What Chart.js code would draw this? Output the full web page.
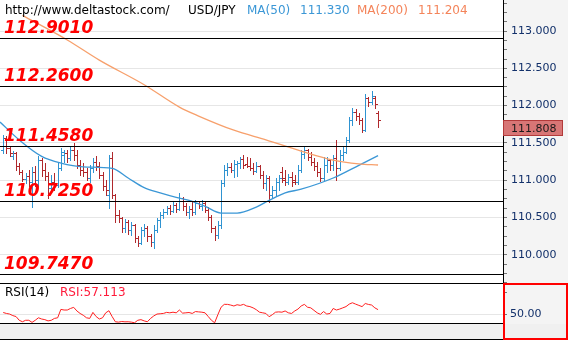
<!DOCTYPE html>
<html>
<head>
<meta charset="utf-8">
<script src="https://cdn.jsdelivr.net/npm/chart.js@4.4.0/dist/chart.umd.min.js"></script>
<style>
  body { margin: 0; background: #fff; }
  #wrap { position: relative; width: 568px; height: 340px; overflow: hidden; }
  #price { position: absolute; left: 0; top: 0; }
  #rsi { position: absolute; left: 0; top: 283px; }
  #strip { position: absolute; left: 0; top: 324px; width: 568px; height: 15px; background: #f0f0f0; border-bottom: 1px solid #000; }
  #frame { position: absolute; left: 503px; top: 283px; width: 65px; height: 57px; border: 2px solid #f00; box-sizing: border-box; }
</style>
</head>
<body>
<div id="wrap">
  <canvas id="price" width="568" height="283"></canvas>
  <canvas id="rsi" width="568" height="41"></canvas>
  <div id="strip"></div>
  <div id="frame"></div>
</div>
<script>
// USD/JPY bars, one entry per bar (index 0..117)
const open = [
  111.40, 111.57, 111.43, 111.32, 111.36, 111.19, 111.11, 111.02, 111.06, 110.98,
  111.11, 111.00, 111.27, 111.14, 111.06, 110.90, 110.98, 110.94, 111.16, 111.34,
  111.36, 111.30, 111.40, 111.34, 111.20, 111.14, 111.11, 111.03, 111.16, 111.24,
  111.19, 111.07, 110.92, 110.80, 111.30, 110.80, 110.53, 110.49, 110.36, 110.44,
  110.33, 110.40, 110.23, 110.16, 110.33, 110.36, 110.25, 110.17, 110.33, 110.47,
  110.53, 110.57, 110.63, 110.59, 110.67, 110.61, 110.76, 110.65, 110.57, 110.61,
  110.57, 110.69, 110.65, 110.69, 110.60, 110.51, 110.36, 110.27, 110.40, 110.96,
  111.14, 111.18, 111.14, 111.22, 111.23, 111.28, 111.22, 111.19, 111.16, 111.12,
  111.19, 111.07, 110.96, 111.03, 110.80, 110.87, 110.98, 111.11, 111.03, 110.98,
  111.04, 111.00, 110.97, 111.14, 111.35, 111.40, 111.31, 111.24, 111.19, 111.11,
  111.03, 111.20, 111.27, 111.20, 111.30, 111.16, 111.34, 111.38, 111.54, 111.81,
  111.91, 111.86, 111.81, 111.67, 112.10, 112.05, 112.10, 111.90
];
const high = [
  111.61, 111.59, 111.46, 111.39, 111.38, 111.23, 111.14, 111.10, 111.14, 111.18,
  111.19, 111.32, 111.30, 111.23, 111.11, 111.07, 111.10, 111.24, 111.43, 111.40,
  111.40, 111.46, 111.50, 111.40, 111.27, 111.23, 111.16, 111.20, 111.30, 111.32,
  111.24, 111.11, 111.00, 111.34, 111.38, 110.81, 110.60, 110.51, 110.48, 110.47,
  110.44, 110.41, 110.25, 110.37, 110.41, 110.39, 110.28, 110.40, 110.49, 110.57,
  110.61, 110.65, 110.67, 110.71, 110.69, 110.83, 110.77, 110.69, 110.65, 110.71,
  110.73, 110.72, 110.73, 110.72, 110.64, 110.53, 110.39, 110.45, 111.00, 111.20,
  111.23, 111.23, 111.27, 111.26, 111.31, 111.34, 111.31, 111.30, 111.23, 111.24,
  111.21, 111.12, 111.07, 111.06, 110.92, 111.03, 111.07, 111.18, 111.14, 111.08,
  111.11, 111.07, 111.20, 111.40, 111.44, 111.42, 111.38, 111.30, 111.24, 111.16,
  111.31, 111.31, 111.29, 111.34, 111.54, 111.40, 111.44, 111.58, 111.85, 111.97,
  111.95, 111.90, 111.83, 112.16, 112.12, 112.20, 112.13, 111.93
];
const low = [
  111.36, 111.36, 111.32, 111.28, 111.14, 111.08, 110.99, 110.96, 110.92, 110.64,
  110.92, 110.92, 111.06, 111.00, 110.76, 110.84, 110.87, 110.91, 111.14, 111.24,
  111.24, 111.27, 111.27, 111.16, 111.07, 111.06, 111.00, 110.98, 111.11, 111.14,
  111.03, 110.87, 110.80, 110.63, 110.76, 110.44, 110.44, 110.31, 110.31, 110.28,
  110.27, 110.17, 110.12, 110.14, 110.25, 110.18, 110.12, 110.09, 110.31, 110.37,
  110.49, 110.55, 110.55, 110.57, 110.57, 110.60, 110.60, 110.53, 110.49, 110.53,
  110.55, 110.63, 110.60, 110.57, 110.47, 110.31, 110.20, 110.23, 110.36, 110.92,
  111.07, 111.11, 111.04, 111.06, 111.16, 111.16, 111.18, 111.14, 111.08, 111.11,
  111.03, 110.90, 110.87, 110.71, 110.76, 110.80, 110.87, 110.98, 110.94, 110.95,
  110.92, 110.95, 110.95, 111.11, 111.30, 111.27, 111.20, 111.14, 111.06, 110.99,
  111.00, 111.11, 111.14, 111.14, 111.00, 111.14, 111.27, 111.36, 111.51, 111.74,
  111.81, 111.75, 111.65, 111.66, 111.99, 112.02, 111.97, 111.72
];
const close = [
  111.57, 111.43, 111.36, 111.36, 111.19, 111.11, 111.02, 111.06, 110.98, 111.11,
  111.00, 111.27, 111.14, 111.06, 110.90, 110.98, 110.94, 111.16, 111.38, 111.36,
  111.30, 111.40, 111.34, 111.20, 111.14, 111.11, 111.03, 111.16, 111.24, 111.19,
  111.07, 110.92, 110.87, 111.30, 110.80, 110.53, 110.49, 110.36, 110.44, 110.33,
  110.40, 110.23, 110.16, 110.33, 110.36, 110.25, 110.17, 110.33, 110.47, 110.53,
  110.57, 110.63, 110.59, 110.67, 110.61, 110.76, 110.65, 110.57, 110.61, 110.57,
  110.69, 110.65, 110.69, 110.60, 110.51, 110.36, 110.27, 110.40, 110.96, 111.14,
  111.18, 111.14, 111.22, 111.23, 111.28, 111.20, 111.19, 111.16, 111.12, 111.19,
  111.07, 110.96, 111.03, 110.80, 110.87, 110.98, 111.03, 111.00, 110.98, 111.04,
  110.98, 110.97, 111.14, 111.35, 111.40, 111.31, 111.24, 111.19, 111.11, 111.03,
  111.20, 111.27, 111.20, 111.30, 111.16, 111.34, 111.38, 111.54, 111.81, 111.91,
  111.86, 111.81, 111.67, 112.10, 112.05, 112.13, 112.02, 111.808
];

// moving averages at these bar indexes
const ma50Idx = [-1, 5, 12, 18, 25, 34, 39, 44, 49, 54, 58, 63, 68, 73, 79, 83, 88, 93, 103, 111, 117];
const ma50 = [111.78, 111.54, 111.32, 111.23, 111.18, 111.16, 111.03, 110.90, 110.83, 110.77, 110.73,
  110.65, 110.56, 110.56, 110.64, 110.73, 110.83, 110.88, 111.03, 111.20, 111.330];
const ma200Idx = [6, 20, 30, 44, 55, 61, 72, 82, 93, 103, 111, 117];
const ma200 = [113.21, 112.88, 112.61, 112.28, 111.98, 111.86, 111.67, 111.54, 111.39, 111.27, 111.22, 111.204];

// RSI(14), one value per bar
const rsi = [
  52.5, 51, 50, 47.5, 46, 40, 37.6, 40, 40, 36.6,
  40, 44, 42, 41, 39, 40, 43, 44, 57.5, 56.5,
  56.5, 59, 60.8, 55, 51, 48, 44, 43, 52.7, 46,
  42, 44, 52, 55.4, 46, 37.6, 37, 38, 37.5, 37.6,
  37, 36, 40, 41, 39, 37.6, 43, 47, 50, 50.5,
  51, 52.7, 52, 53, 52, 56.5, 51.5, 52, 52.5, 51,
  54, 53.5, 53, 52, 46, 40, 36, 49, 61, 65.6,
  65.6, 64.5, 63, 65, 64, 65.6, 63, 62, 60, 57,
  53, 52, 51, 45.7, 49, 53, 53.5, 53, 55, 52,
  51, 55, 58, 63, 65.6, 61, 60, 56, 52, 49.5,
  54, 50, 51, 59, 56.5, 58, 60, 62, 66, 68.2,
  66, 64, 62, 67, 65.5, 64.5, 60, 57.113
];

// support / resistance levels
const levels = [112.901, 112.26, 111.458, 110.725, 109.747];

const BLUE = "#2f93d1";
const RED = "#b0282c";
const MA50_COLOR = "#3b97d6";
const MA200_COLOR = "#f7a06c";
const AXIS_TEXT = "#12306a";
const FONT = '"DejaVu Sans", Verdana, sans-serif';

const isMajor = (v) => Math.abs(v * 2 - Math.round(v * 2)) < 1e-6;

// fixed width for the right-hand price axis, no extra label padding
function fitAxis(scale) {
  scale.width = 65;
  scale.paddingTop = 0;
  scale.paddingBottom = 0;
}

const pricePlugin = {
  id: "pricePanel",
  beforeDraw(chart) {
    const { ctx, chartArea: a, width, height } = chart;
    ctx.save();
    ctx.fillStyle = "#fff";
    ctx.fillRect(0, 0, a.right, height);
    ctx.fillStyle = "#f4f4f4";
    ctx.fillRect(a.right, 0, width - a.right, height);
    ctx.restore();
  },
  beforeDatasetsDraw(chart) {
    // OHLC bars: high-low stem, open tick left, close tick right
    const { ctx, chartArea: a, scales: { x, y } } = chart;
    ctx.save();
    ctx.beginPath();
    ctx.rect(a.left, a.top, a.right - a.left, a.bottom - a.top);
    ctx.clip();
    ctx.lineWidth = 1;
    for (let i = 0; i < close.length; i++) {
      const px = Math.round(x.getPixelForValue(i)) + 0.5;
      const yo = Math.round(y.getPixelForValue(open[i])) + 0.5;
      const yc = Math.round(y.getPixelForValue(close[i])) + 0.5;
      ctx.strokeStyle = close[i] >= open[i] ? BLUE : RED;
      ctx.beginPath();
      ctx.moveTo(px, Math.round(y.getPixelForValue(high[i])));
      ctx.lineTo(px, Math.round(y.getPixelForValue(low[i])) + 1);
      ctx.moveTo(px - 2.5, yo);
      ctx.lineTo(px, yo);
      ctx.moveTo(px, yc);
      ctx.lineTo(px + 2.5, yc);
      ctx.stroke();
    }
    ctx.restore();
  },
  afterDatasetsDraw(chart) {
    const { ctx, chartArea: a, scales: { y } } = chart;
    ctx.save();
    ctx.strokeStyle = "#000";
    ctx.lineWidth = 1;
    ctx.font = "italic bold 17px " + FONT;
    ctx.fillStyle = "#ff0000";
    ctx.textBaseline = "alphabetic";
    levels.forEach((lv) => {
      const py = Math.round(y.getPixelForValue(lv)) + 0.5;
      ctx.beginPath();
      ctx.moveTo(a.left, py);
      ctx.lineTo(a.right, py);
      ctx.stroke();
      ctx.fillText(lv.toFixed(4), 4, py - 6);
    });
    ctx.restore();
  },
  afterDraw(chart) {
    const { ctx, chartArea: a, scales: { y } } = chart;
    ctx.save();
    ctx.font = "12px " + FONT;
    ctx.textBaseline = "alphabetic";
    ctx.fillStyle = "#000";
    ctx.fillText("http://www.deltastock.com/", 5, 14);
    ctx.fillText("USD/JPY", 188, 14);
    ctx.fillStyle = MA50_COLOR;
    ctx.fillText("MA(50)", 247, 14);
    ctx.fillText(ma50[ma50.length - 1].toFixed(3), 300, 14);
    ctx.fillStyle = "#f4845a";
    ctx.fillText("MA(200)", 357, 14);
    ctx.fillText(ma200[ma200.length - 1].toFixed(3), 418, 14);

    // current price tag on the axis
    const last = close[close.length - 1];
    const py = Math.round(y.getPixelForValue(last));
    ctx.fillStyle = "#d87676";
    ctx.fillRect(a.right, py, 60, 16);
    ctx.strokeStyle = "#b33a3a";
    ctx.strokeRect(a.right + 0.5, py + 0.5, 59, 15);
    ctx.fillStyle = "#1a1a1a";
    ctx.font = "11px " + FONT;
    ctx.fillText(last.toFixed(3), a.right + 8, py + 12);
    ctx.restore();
  },
};

const rsiPlugin = {
  id: "rsiPanel",
  beforeDraw(chart) {
    const { ctx, chartArea: a, width, height } = chart;
    ctx.save();
    ctx.fillStyle = "#fff";
    ctx.fillRect(0, 0, a.right, height);
    ctx.fillStyle = "#f4f4f4";
    ctx.fillRect(a.right, 0, width - a.right, height);
    ctx.restore();
  },
  afterDraw(chart) {
    const { ctx, chartArea: a, height } = chart;
    ctx.save();
    ctx.strokeStyle = "#000";
    ctx.lineWidth = 1;
    ctx.beginPath();
    ctx.moveTo(0, 0.5);
    ctx.lineTo(a.right, 0.5);
    ctx.moveTo(0, height - 0.5);
    ctx.lineTo(a.right, height - 0.5);
    ctx.stroke();
    ctx.font = "12px " + FONT;
    ctx.fillStyle = "#000";
    ctx.fillText("RSI(14)", 5, 13);
    ctx.fillStyle = "#ff1a3a";
    ctx.fillText("RSI:" + rsi[rsi.length - 1].toFixed(3), 60, 13);
    ctx.restore();
  },
};

const xAxis = { type: "linear", min: -1, max: 156, display: false };

new Chart(document.getElementById("price"), {
  type: "line",
  data: {
    datasets: [
      {
        label: "MA(200)",
        data: ma200Idx.map((i, k) => ({ x: i, y: ma200[k] })),
        borderColor: MA200_COLOR,
        borderWidth: 1.3,
        pointRadius: 0,
        cubicInterpolationMode: "monotone",
      },
      {
        label: "MA(50)",
        data: ma50Idx.map((i, k) => ({ x: i, y: ma50[k] })),
        borderColor: MA50_COLOR,
        borderWidth: 1.3,
        pointRadius: 0,
        cubicInterpolationMode: "monotone",
      },
    ],
  },
  options: {
    responsive: false,
    animation: false,
    events: [],
    layout: { padding: 0 },
    plugins: { legend: { display: false }, tooltip: { enabled: false } },
    scales: {
      x: xAxis,
      y: {
        position: "right",
        min: 109.622,
        max: 113.416,
        afterFit: fitAxis,
        border: { display: true, color: "#000", width: 1 },
        grid: {
          color: (c) => (c.tick && isMajor(c.tick.value) ? "#e6e6e6" : "rgba(0,0,0,0)"),
          tickColor: "#777",
          tickLength: 4,
        },
        ticks: {
          stepSize: 0.125,
          includeBounds: false,
          autoSkip: false,
          padding: 4,
          color: AXIS_TEXT,
          font: { family: FONT, size: 11 },
          callback: (v) => (isMajor(v) ? Number(v).toFixed(3) : ""),
        },
      },
    },
  },
  plugins: [pricePlugin],
});

new Chart(document.getElementById("rsi"), {
  type: "line",
  data: {
    datasets: [
      {
        label: "RSI",
        data: rsi.map((v, i) => ({ x: i, y: v })),
        borderColor: "#ff2020",
        borderWidth: 1,
        pointRadius: 0,
        tension: 0,
      },
    ],
  },
  options: {
    responsive: false,
    animation: false,
    events: [],
    layout: { padding: 0 },
    plugins: { legend: { display: false }, tooltip: { enabled: false } },
    scales: {
      x: xAxis,
      y: {
        position: "right",
        min: 34,
        max: 100,
        afterFit: fitAxis,
        afterBuildTicks: (s) => { s.ticks = [{ value: 50 }, { value: 84 }]; },
        border: { display: true, color: "#000", width: 1 },
        grid: {
          color: (c) => (c.tick && c.tick.value === 50 ? "#e6e6e6" : "rgba(0,0,0,0)"),
          tickColor: "#777",
          tickLength: 4,
        },
        ticks: {
          autoSkip: false,
          padding: 3,
          color: AXIS_TEXT,
          font: { family: FONT, size: 11 },
          callback: (v) => (v === 50 ? "50.00" : ""),
        },
      },
    },
  },
  plugins: [rsiPlugin],
});
</script>
</body>
</html>
